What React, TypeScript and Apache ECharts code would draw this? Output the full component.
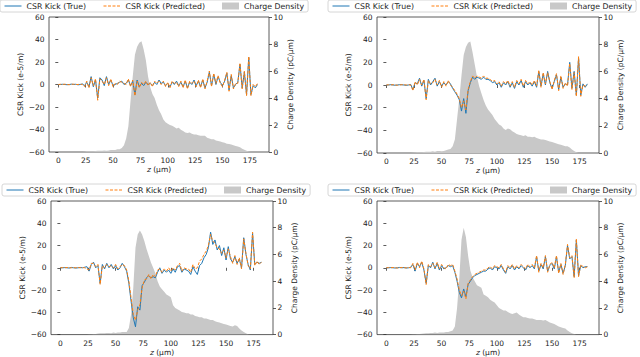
import React, { useEffect, useRef } from 'react';
import * as echarts from 'echarts';

const zPos = [
  0, 2, 4, 6, 8, 10, 12, 14, 16, 18,
  20, 22, 24, 26, 28, 30, 32, 34, 36, 38,
  40, 42, 44, 46, 48, 50, 52, 54, 56, 58,
  60, 62, 64, 66, 68, 70, 72, 74, 76, 78,
  80, 82, 84, 86, 88, 90, 92, 94, 96, 98,
  100, 102, 104, 106, 108, 110, 112, 114, 116, 118,
  120, 122, 124, 126, 128, 130, 132, 134, 136, 138,
  140, 142, 144, 146, 148, 150, 152, 154, 156, 158,
  160, 162, 164, 166, 168, 170, 172, 174, 176, 178,
  180, 182,
];

const trueKick1 = [
  0, 0, 0.2, 0, -0.2, 0, 0.3, 0, 0.2, -0.3,
  0, 0.5, -1, 2, -2, 7, -2, 4, -12, 6,
  4, -1, 7, 0, 4, -1, 0, 1, 2, 3,
  0, 1, 4, -1, 3, -9, 4, -2, 1, -1,
  2, 0, 1, -1, 2, 0, 4, 1, 2, -1,
  1, -2, 2, 0, 3, -1, 2, -2, 3, -3,
  2, 0, 4, -1, 3, -2, 4, -3, 2, 11,
  -1, 9, 0, 7, 2, -1, 3, 10, -5, 8,
  -3, 0, 2, 18, -3, 11, -9, 24, -9, -1,
  -3, 0,
];
const predKick1 = [
  0, 0.2, 0, 0.3, 0, -0.2, 0.2, 0.3, 0, 0,
  0.3, 0, -2, 3, -3, 6, -1, 5, -14, 5,
  3, 0, 6, -1, 5, -2, 1, 0, 3, 2,
  1, 0, 5, -2, 4, -10, 3, -3, 2, 0,
  3, -1, 2, -2, 3, 1, 3, 0, 3, -2,
  2, -3, 3, 1, 2, -2, 3, -3, 4, -4,
  3, 1, 3, -2, 4, -3, 5, -4, 3, 12,
  -2, 10, 1, 8, 1, -2, 4, 11, -6, 9,
  -4, 1, 1, 19, -4, 12, -10, 25, -10, 0,
  -2, 1,
];
const density1 = [
  0, 0, 0, 0, 0, 0, 0, 0, 0, 0,
  0, 0, 0.02, 0.05, 0.05, 0.05, 0.05, 0.08, 0.1, 0.1,
  0.1, 0.12, 0.1, 0.12, 0.15, 0.15, 0.15, 0.2, 0.2, 0.3,
  0.5, 1.0, 1.9, 3.8, 5.6, 7.2, 7.8, 8.1, 8.2, 7.6,
  6.8, 5.6, 4.8, 4.3, 4.0, 3.5, 3.1, 2.8, 2.4, 2.2,
  2.1, 2.0, 1.95, 1.85, 1.75, 1.8, 1.65, 1.55, 1.45, 1.4,
  1.45, 1.35, 1.3, 1.3, 1.25, 1.2, 1.2, 1.2, 1.05, 1.0,
  0.95, 0.95, 0.85, 0.82, 0.78, 0.72, 0.68, 0.62, 0.6, 0.55,
  0.5, 0.45, 0.4, 0.35, 0.25, 0.17, 0.1, 0.04, 0, 0,
  0, 0,
];

const trueKick2 = [
  0, 0, 0.3, 0, -0.2, 0, 0.3, 0.2, 0, -0.3,
  0, 0.5, -4, 2, 1, 6, -1, 4, -12, 5,
  0, 3, 6, -1, 3, -1, 2, 0, 3, 1,
  -3, -6, -9, -13, -23, -12, -25, -5, 2, 7,
  5, 7, 6, 5, 7, 5, 5, 4, 2, 3,
  0, 2, -2, 2, 0, 3, -2, 2, -3, 3,
  0, 4, -2, 3, 0, 2, -1, 3, -2, 12,
  -1, 10, 0, 12, 2, -3, 3, 9, -4, 7,
  -2, 1, 0, 20, -3, 12, -9, 24, -9, 1,
  -2, 1,
];
const predKick2 = [
  0, 0.2, 0, 0.3, 0, -0.2, 0, 0.3, 0.2, 0,
  0.3, 0, -5, 3, 0, 5, 0, 5, -13, 4,
  1, 2, 5, 0, 4, -2, 3, -1, 4, 0,
  -2, -5, -8, -12, -20, -14, -22, -4, 3, 8,
  6, 8, 7, 6, 8, 6, 6, 5, 3, 4,
  1, 3, -1, 3, 1, 4, -1, 3, -2, 4,
  1, 5, -1, 4, 1, 3, 0, 4, -1, 13,
  -2, 11, 1, 11, 3, -4, 4, 10, -5, 8,
  -3, 2, -1, 19, -4, 11, -10, 25, -10, 0,
  -1, 0,
];
const density2 = [
  0, 0, 0, 0, 0, 0, 0, 0, 0, 0,
  0, 0, 0.02, 0.03, 0.05, 0.05, 0.06, 0.08, 0.1, 0.1,
  0.1, 0.12, 0.1, 0.15, 0.15, 0.12, 0.15, 0.2, 0.25, 0.3,
  0.5, 1.0, 2.5, 4.0, 5.7, 7.2, 7.8, 8.1, 8.2, 7.4,
  6.5, 5.6, 4.9, 4.4, 3.9, 3.5, 3.2, 3.0, 2.8, 2.5,
  2.3, 2.1, 2.0, 1.8, 1.7, 1.8, 1.75, 1.6, 1.5, 1.4,
  1.35, 1.3, 1.25, 1.3, 1.2, 1.2, 1.15, 1.2, 1.1, 1.05,
  1.0, 1.0, 0.95, 0.9, 0.85, 0.8, 0.75, 0.7, 0.65, 0.6,
  0.55, 0.5, 0.5, 0.4, 0.25, 0.15, 0.05, 0, 0, 0,
  0, 0,
];

const trueKick3 = [
  0, 0, 0.2, 0, -0.2, 0.3, 0, -0.2, 0, 0.3,
  0, 0.5, 1, -3, 3, 5, 0, 2, -14, 3,
  -1, 4, 0, 3, -1, 2, -2, 0, 4, 1,
  -3, -14, -30, -45, -53, -35, -38, -16, -13, -9,
  -7, -9, -8, -9, -4, 0, -5, -2, -4, -2,
  -5, -1, -4, 1, 2, -4, -1, -2, -3, -6,
  1, -3, -6, 2, 4, 9, 12, 18, 32, 21,
  25, 16, 20, 11, 18, 7, 19, 8, 5, 10,
  4, 8, 0, 27, 12, 3, -2, 31, 3, 5,
  4, 5,
];
const predKick3 = [
  0, 0.2, 0, 0.3, 0, 0, 0.2, 0, 0.3, 0,
  0.3, 0, -1, -2, 4, 4, 1, 3, -15, 2,
  0, 3, 1, 2, 0, 3, -1, 1, 3, 2,
  -2, -12, -27, -42, -47, -38, -33, -18, -11, -10,
  -6, -10, -6, -8, -2, -1, -4, -1, -3, 0,
  -3, 0, -2, 2, 4, -3, 0, -1, -1, -4,
  3, -1, 0, 6, 8, 12, 15, 20, 30, 24,
  22, 18, 17, 13, 16, 9, 17, 10, 4, 11,
  3, 9, -1, 26, 13, 2, -1, 32, 2, 6,
  3, 5,
];
const density3 = [
  0, 0, 0, 0, 0, 0, 0, 0, 0, 0,
  0, 0, 0, 0.02, 0.03, 0.05, 0.05, 0.08, 0.1, 0.1,
  0.1, 0.12, 0.12, 0.1, 0.15, 0.12, 0.15, 0.15, 0.2, 0.2,
  0.2, 0.5, 1.5, 3.5, 6.5, 7.5, 7.8, 7.5, 7.0, 6.4,
  5.9, 5.4, 5.0, 4.6, 4.0, 3.6, 3.4, 3.2, 3.0, 2.9,
  2.8, 2.2, 2.0, 1.9, 1.8, 1.7, 1.65, 1.6, 1.6, 1.5,
  1.5, 1.4, 1.35, 1.3, 1.3, 1.2, 1.2, 1.15, 1.1, 1.1,
  1.0, 0.95, 0.9, 0.85, 0.8, 0.75, 0.7, 0.65, 0.6, 0.7,
  0.65, 0.45, 0.3, 0.2, 0.1, 0.02, 0, 0, 0, 0,
  0, 0,
];

const trueKick4 = [
  0, 0, 0.2, 0, -0.2, 0, 0.3, 0, 0.2, -0.2,
  0, 0.5, 3, -3, 4, 1, 5, -2, -14, 2,
  0, 5, -1, 4, -2, 2, -1, 0, 2, 1,
  2, -4, -12, -22, -27, -19, -26, -15, -12, -9,
  -7, -6, -5, -4, -3, -3, -1, 0, -2, 1,
  0, -1, 2, -2, -5, 1, -1, 2, -2, 1,
  -1, 2, 0, -2, 2, 0, 2, -1, 10, -3,
  3, -1, 10, -3, 2, 4, -1, 10, -4, 3,
  -5, 2, 20, 8, 10, -8, 25, -7, 2, 0,
  1, 1,
];
const predKick4 = [
  0, 0.2, 0, 0.3, 0, -0.2, 0, 0.3, 0, 0,
  0.3, 0, 4, -2, 5, 0, 6, -1, -15, 3,
  1, 4, 0, 5, -1, 3, 0, -1, 3, 2,
  3, -3, -10, -20, -25, -21, -28, -14, -11, -8,
  -6, -5, -4, -3, -2, -2, 0, 1, -1, 2,
  1, 0, 3, -1, -4, 2, 0, 3, -1, 2,
  0, 3, 1, -1, 3, 1, 3, 0, 11, -4,
  4, 0, 11, -4, 3, 5, 0, 11, -5, 4,
  -6, 3, 21, 9, 11, -9, 26, -8, 3, 1,
  0, 1,
];
const density4 = [
  0, 0, 0, 0, 0, 0, 0, 0, 0, 0,
  0, 0, 0.02, 0.03, 0.05, 0.05, 0.06, 0.08, 0.1, 0.1,
  0.12, 0.12, 0.15, 0.12, 0.15, 0.15, 0.15, 0.2, 0.2, 0.25,
  0.3, 0.6, 2.0, 4.2, 7.1, 8.0, 7.3, 5.9, 4.8, 4.3,
  4.0, 3.7, 3.6, 3.5, 3.0, 2.9, 2.8, 2.6, 2.5, 2.4,
  2.2, 2.0, 1.9, 1.8, 1.8, 1.7, 1.6, 1.55, 1.6, 1.65,
  1.5, 1.4, 1.3, 1.3, 1.25, 1.2, 1.2, 1.15, 1.1, 1.1,
  1.1, 1.05, 1.1, 1.0, 0.9, 0.85, 0.8, 0.7, 0.6, 0.55,
  0.5, 0.45, 0.3, 0.2, 0.1, 0.05, 0, 0, 0, 0,
  0, 0,
];

const xTicks = [0, 25, 50, 75, 100, 125, 150, 175];
const nameTrue = 'CSR Kick (True)';
const namePred = 'CSR Kick (Predicted)';
const nameDensity = 'Charge Density';
const leftAxisName = 'CSR Kick (e-5/m)';
const rightAxisName = 'Charge Density (pC/μm)';

const panels = [
  { t: trueKick1, p: predKick1, d: density1 },
  { t: trueKick2, p: predKick2, d: density2 },
  { t: trueKick3, p: predKick3, d: density3 },
  { t: trueKick4, p: predKick4, d: density4 },
];

const layout = [
  { left: 49, top: 17, width: 220, height: 135, lx: 0, ly: 0 },
  { left: 377, top: 17, width: 222, height: 136, lx: 328, ly: 0 },
  { left: 51, top: 201, width: 222, height: 135, lx: 2, ly: 184 },
  { left: 377, top: 201, width: 222, height: 135, lx: 328, ly: 184 },
];

const FONT = 'DejaVu Sans';
const TXT = '#222';
const SPINE = '#333';

function pairs(xs: number[], ys: number[]) {
  return xs.map((x, i) => [x, ys[i]]);
}

export default function App() {
  const ref = useRef<HTMLDivElement>(null);
  useEffect(() => {
    if (!ref.current) return;
    const chart = echarts.init(ref.current, undefined, { renderer: 'svg' });
    const grid: any[] = [];
    const xAxis: any[] = [];
    const yAxis: any[] = [];
    const series: any[] = [];
    const legend: any[] = [];
    const tickStyle = { color: SPINE, width: 0.8 };
    const labelBase = { fontSize: 7.5, color: TXT, fontFamily: FONT };
    layout.forEach((L, i) => {
      grid.push({
        left: L.left, top: L.top, width: L.width, height: L.height,
        show: true, borderColor: SPINE, borderWidth: 0.8, backgroundColor: 'transparent',
      });
      xAxis.push({
        gridIndex: i, type: 'value', min: -8.5, max: 192.5,
        axisLine: { show: false }, splitLine: { show: false },
        axisTick: { show: true, length: 3, customValues: xTicks, lineStyle: tickStyle },
        axisLabel: { ...labelBase, customValues: xTicks, margin: 4.5 },
        name: '{i|z} (μm)', nameLocation: 'middle', nameGap: 12,
        nameTextStyle: { ...labelBase, rich: { i: { ...labelBase, fontStyle: 'italic' } } },
      });
      yAxis.push({
        gridIndex: i, type: 'value', position: 'left', min: -60, max: 60, interval: 20,
        axisLine: { show: false }, splitLine: { show: false },
        axisTick: { show: true, length: 3, lineStyle: tickStyle },
        axisLabel: {
          ...labelBase, margin: 4.5,
          formatter: (v: number) => (v < 0 ? '\u2212' + Math.abs(v) : String(v)),
        },
        name: leftAxisName, nameLocation: 'middle', nameRotate: 90, nameGap: 23,
        nameTextStyle: labelBase,
      });
      yAxis.push({
        gridIndex: i, type: 'value', position: 'right', min: 0, max: 10, interval: 2,
        axisLine: { show: false }, splitLine: { show: false },
        axisTick: { show: true, length: 3, lineStyle: tickStyle },
        axisLabel: { ...labelBase, margin: 4.5 },
        name: rightAxisName, nameLocation: 'middle', nameRotate: 90, nameGap: 15,
        nameTextStyle: labelBase,
      });
      const P = panels[i];
      series.push({
        name: nameDensity, type: 'line', xAxisIndex: i, yAxisIndex: 2 * i + 1,
        data: pairs(zPos, P.d), symbol: 'none', z: 1,
        lineStyle: { width: 0 }, itemStyle: { color: '#c8c8c8' },
        areaStyle: { color: '#c8c8c8', opacity: 1 },
      });
      series.push({
        name: nameTrue, type: 'line', xAxisIndex: i, yAxisIndex: 2 * i,
        data: pairs(zPos, P.t), symbol: 'none', z: 2,
        itemStyle: { color: '#1f77b4' }, lineStyle: { color: '#1f77b4', width: 1 },
      });
      series.push({
        name: namePred, type: 'line', xAxisIndex: i, yAxisIndex: 2 * i,
        data: pairs(zPos, P.p), symbol: 'none', z: 3,
        itemStyle: { color: '#ff7f0e' },
        lineStyle: { color: '#ff7f0e', width: 1, type: [3, 1.5] },
      });
      legend.push({
        left: L.lx, top: L.ly, orient: 'horizontal', padding: [2, 4],
        itemGap: 17, itemWidth: 17, itemHeight: 7,
        borderColor: '#cccccc', borderWidth: 0.8, borderRadius: 2,
        backgroundColor: 'rgba(255,255,255,0.8)', selectedMode: false,
        textStyle: { fontSize: 7.8, color: TXT, fontFamily: FONT },
        lineStyle: { width: 1 },
        data: [
          { name: nameTrue, itemStyle: { opacity: 0 } },
          { name: namePred, itemStyle: { opacity: 0 } },
          { name: nameDensity, icon: 'rect', itemStyle: { color: '#c8c8c8', opacity: 1 } },
        ],
      });
    });
    chart.setOption({
      animation: false,
      backgroundColor: '#ffffff',
      textStyle: { fontFamily: FONT },
      grid, xAxis, yAxis, series, legend,
    });
    return () => chart.dispose();
  }, []);
  return (
    <div
      ref={ref}
      style={{ position: 'absolute', left: 0, top: 0, width: 640, height: 357 }}
    />
  );
}
